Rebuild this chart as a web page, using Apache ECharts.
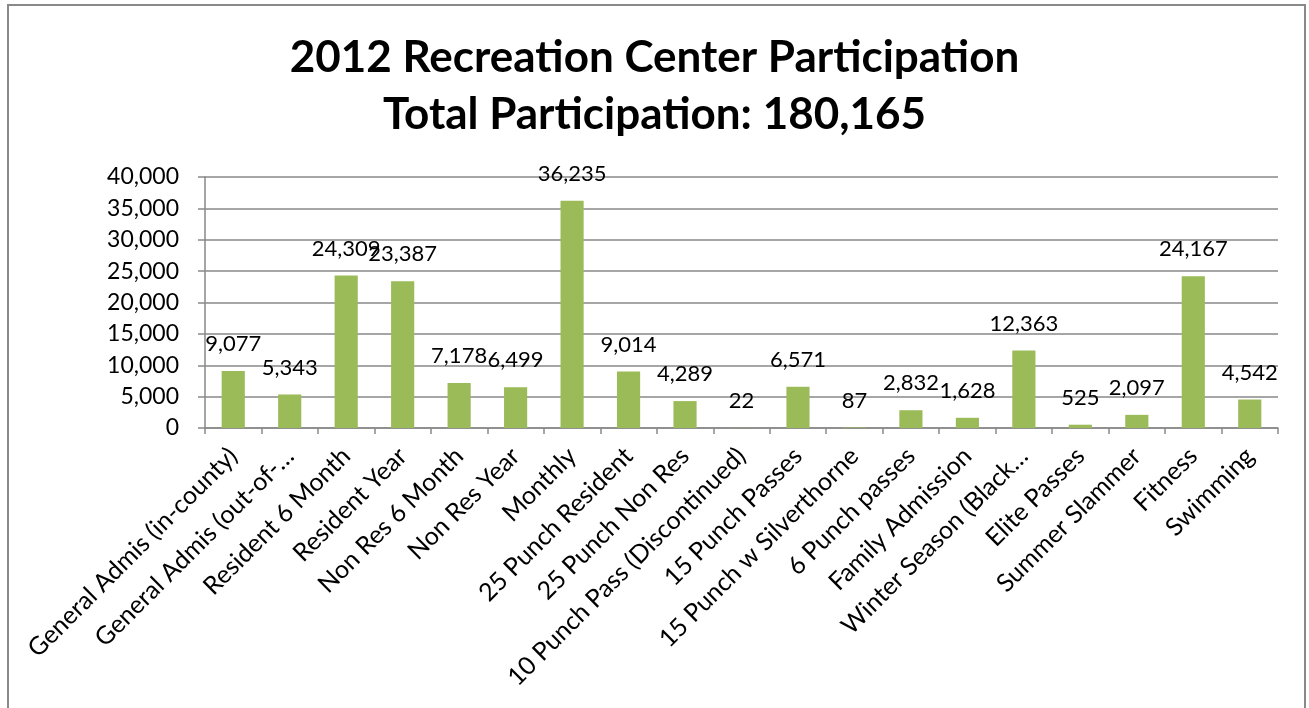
<!DOCTYPE html>
<html>
<head>
<meta charset="utf-8">
<script src="https://cdn.jsdelivr.net/npm/echarts@6/dist/echarts.min.js"></script>
<style>
  html, body { margin: 0; padding: 0; background: #fff; }
  #chart { width: 1309px; height: 708px; }
</style>
</head>
<body>
<div id="chart"></div>
<script>
// Program categories (long names shortened with an ellipsis, as on the axis)
const categories = [
  'General Admis (in-county)',
  'General Admis (out-of-…',
  'Resident 6 Month',
  'Resident Year',
  'Non Res 6 Month',
  'Non Res Year',
  'Monthly',
  '25 Punch Resident',
  '25 Punch Non Res',
  '10 Punch Pass (Discontinued)',
  '15 Punch Passes',
  '15 Punch w Silverthorne',
  '6 Punch passes',
  'Family Admission',
  'Winter Season (Black…',
  'Elite Passes',
  'Summer Slammer',
  'Fitness',
  'Swimming'
];

// Participation counts per category
const participation = [
  9077, 5343, 24309, 23387, 7178, 6499, 36235, 9014, 4289, 22,
  6571, 87, 2832, 1628, 12363, 525, 2097, 24167, 4542
];

// Value axis range
const yMin = 0;
const yMax = 40000;
const yStep = 5000;

const titleLines = [
  '2012 Recreation Center Participation',
  'Total Participation: 180,165'
];

const FONT = 'Lato, "Open Sans", sans-serif';
const GREY = '#898989';
const fmt = v => v.toLocaleString('en-US');

const chart = echarts.init(document.getElementById('chart'));
chart.setOption({
  animation: false,
  backgroundColor: '#ffffff',
  graphic: [{
    type: 'rect',
    shape: { x: 8, y: 5, width: 1297, height: 720 },
    style: { fill: 'none', stroke: GREY, lineWidth: 2 },
    silent: true
  }],
  title: {
    text: titleLines.join('\n'),
    left: 'center',
    top: 24,
    textStyle: {
      fontFamily: FONT,
      fontWeight: 'bold',
      fontSize: 44,
      lineHeight: 57,
      color: '#000'
    }
  },
  grid: { left: 205, right: 31, top: 177, bottom: 280, containLabel: false },
  xAxis: {
    type: 'category',
    data: categories,
    boundaryGap: true,
    axisLine: { lineStyle: { color: GREY, width: 1.5 } },
    axisTick: { show: true, length: 6, alignWithLabel: false, lineStyle: { color: GREY, width: 1.5 } },
    axisLabel: {
      interval: 0,
      rotate: 45,
      margin: 24,
      fontFamily: FONT,
      fontSize: 25,
      color: '#000'
    }
  },
  yAxis: {
    type: 'value',
    min: yMin,
    max: yMax,
    interval: yStep,
    axisLine: { show: true, lineStyle: { color: GREY, width: 1.5 } },
    axisTick: { show: true, length: 7, lineStyle: { color: GREY, width: 1.5 } },
    splitLine: { show: true, lineStyle: { color: GREY, width: 1.5 } },
    axisLabel: {
      margin: 26,
      fontFamily: FONT,
      fontSize: 23,
      color: '#000',
      formatter: v => fmt(v)
    }
  },
  series: [{
    type: 'bar',
    data: participation,
    barWidth: '41%',
    itemStyle: { color: '#9BBB59' },
    label: {
      show: true,
      position: 'top',
      distance: 16,
      fontFamily: FONT,
      fontSize: 22,
      color: '#000',
      formatter: p => fmt(p.value)
    }
  }]
});
</script>
</body>
</html>
